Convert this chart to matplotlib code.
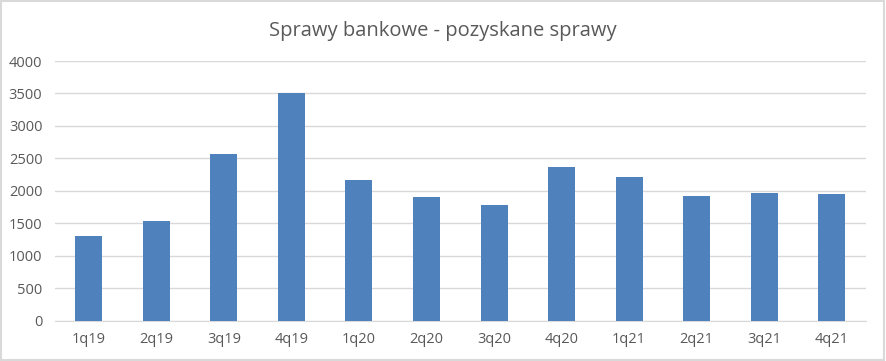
import matplotlib
matplotlib.use("Agg")
from matplotlib import pyplot as plt
from matplotlib.patches import Rectangle

# chart data
quarters = ['1q19', '2q19', '3q19', '4q19', '1q20', '2q20', '3q20', '4q20',
            '1q21', '2q21', '3q21', '4q21']
cases = [1310, 1540, 2570, 3510, 2170, 1910, 1785, 2370, 2215, 1925, 1970, 1955]
y_ticks = [0, 500, 1000, 1500, 2000, 2500, 3000, 3500, 4000]

bar_color = '#4F81BD'
text_color = '#595959'
grid_color = '#D9D9D9'

plt.rcParams['font.family'] = ['Open Sans', 'DejaVu Sans']

fig = plt.figure(figsize=(8.86, 3.61), dpi=100)
ax = fig.add_axes([0.062, 0.111, 0.915, 0.72])

ax.bar(range(len(quarters)), cases, width=0.4, color=bar_color, zorder=3)

ax.set_ylim(0, 4000)
ax.set_xlim(-0.5, len(quarters) - 0.5)
ax.set_yticks(y_ticks)
ax.set_xticks(range(len(quarters)))
ax.set_xticklabels(quarters)
ax.tick_params(axis='both', length=0, colors=text_color, labelsize=10.5)
ax.tick_params(axis='x', pad=8)
ax.tick_params(axis='y', pad=9)

ax.grid(axis='y', color=grid_color, linewidth=1, zorder=0)
for side in ['top', 'right', 'left']:
    ax.spines[side].set_visible(False)
ax.spines['bottom'].set_color(grid_color)

fig.text(0.5, 0.915, 'Sprawy bankowe - pozyskane sprawy', ha='center', va='center',
         fontsize=14.5, color=text_color)

# outer frame like the Excel chart border
fig.patches.append(Rectangle((0.001, 0.002), 0.997, 0.995, transform=fig.transFigure,
                             fill=False, edgecolor=grid_color, linewidth=1.5))

fig.savefig('out.png', dpi=100)
